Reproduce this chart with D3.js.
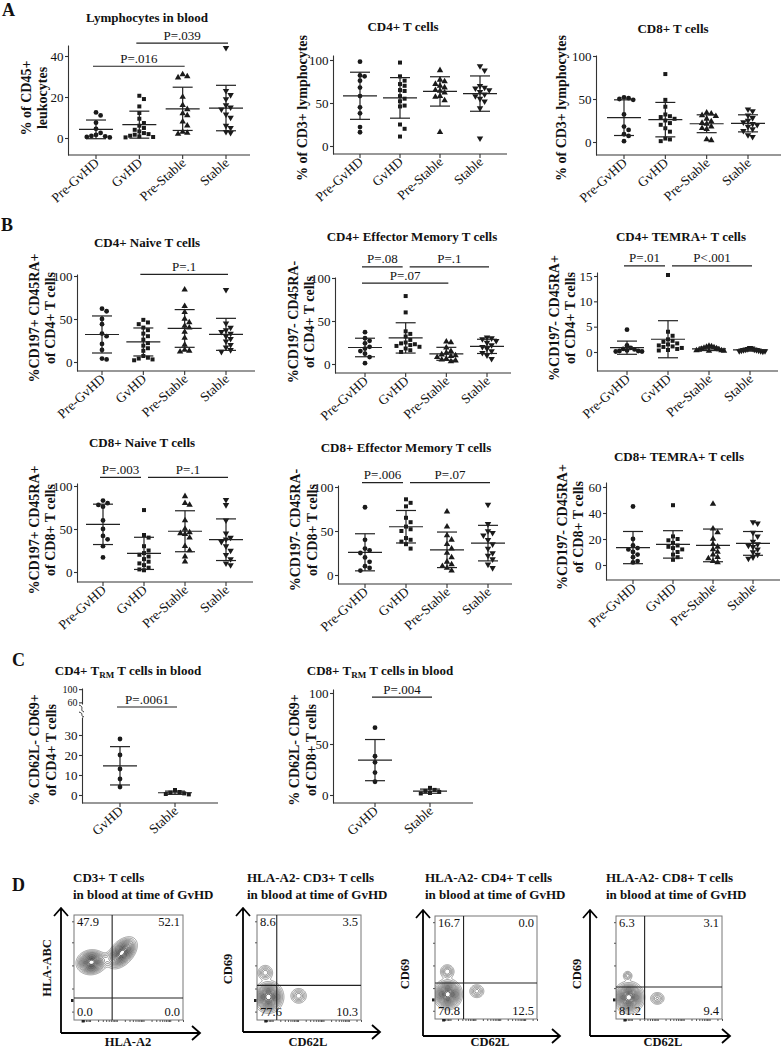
<!DOCTYPE html>
<html><head><meta charset="utf-8">
<script src="https://cdn.jsdelivr.net/npm/d3@7"></script>
<style>
body{margin:0;background:#fff;}
svg text{font-family:"Liberation Serif","Times New Roman",serif;fill:#111;}
</style></head><body>
<svg id="c" width="781" height="1050"></svg>
<script>
// ---------------- DATA ----------------
const groups = ["Pre-GvHD","GvHD","Pre-Stable","Stable"];
const groupsC = ["GvHD","Stable"];

const lymphocytesBlood = [
  [12.5, 11, 7.5, 4.5, 2.5, 1.5, 1, 0.8, 0.5, 0.3],
  [20.6, 19, 15.4, 12.2, 9.4, 7.3, 6, 4.9, 4, 3.2, 2.4, 1.9, 1.6, 1.1, 0.8, 0.5, 0.3],
  [31, 30, 29.5, 20, 16, 14, 12, 11, 8, 6, 3, 2.5, 2],
  [44, 23, 21, 19, 16, 15, 14, 11.5, 10, 6, 5, 3, 2.5]
];
const cd4Tcells = [
  [98, 82, 81, 76, 68, 58, 45, 38, 22, 16],
  [97, 81, 76, 72, 70, 65, 64, 58, 55, 52, 47, 46, 25, 20, 11],
  [88, 77, 75, 72, 70, 68, 65, 64, 62, 58, 57, 53, 16],
  [93, 88, 70, 68, 67, 65, 63, 60, 58, 55, 52, 44, 9]
];
const cd8Tcells = [
  [52, 51, 50, 49, 32, 18, 14, 9, 7, 1],
  [79, 49, 41, 32, 30, 29, 27, 25, 22, 20, 16, 12, 4, 3, 1],
  [34, 33, 31, 30, 27, 24, 22, 21, 18, 16, 15, 3, 2],
  [38, 36, 31, 28, 25, 23, 21, 20, 18, 15, 13, 8, 6]
];
const cd4Naive = [
  [62, 59, 50, 44, 33, 30, 21, 14, 4, 3],
  [49, 46, 44, 40, 37, 33, 30, 26, 22, 19, 16, 13, 7, 5, 4, 3, 2],
  [84, 65, 58, 50, 46, 42, 40, 35, 28, 20, 14, 13, 12],
  [84, 45, 40, 37, 35, 33, 30, 27, 24, 20, 17, 14, 12]
];
const cd4EffMem = [
  [37, 30, 27, 24, 20, 18, 15, 12, 8, 1],
  [79, 60, 38, 35, 32, 28, 25, 24, 23, 22, 21, 20, 18, 16, 14],
  [26, 25, 19, 15, 13, 11, 10, 9, 8, 6, 5, 4, 3],
  [31, 30, 29, 27, 25, 22, 20, 18, 15, 13, 10, 6]
];
const cd4Temra = [
  [4.4, 1.3, 0.8, 0.6, 0.5, 0.3, 0.2, 0.2, 0.1, 0.1],
  [15.2, 4, 3.2, 2.5, 2.2, 2, 1.7, 1.5, 1.3, 1.1, 1, 0.8, 0.6, 0.4, 0.3],
  [1.2, 1.1, 1.0, 0.9, 0.8, 0.7, 0.6, 0.5, 0.4, 0.3, 0.3, 0.2, 0.2],
  [0.8, 0.7, 0.6, 0.5, 0.5, 0.4, 0.4, 0.3, 0.3, 0.2, 0.2, 0.2, 0.1]
];
const cd8Naive = [
  [83, 80, 78, 76, 60, 50, 42, 38, 30, 17],
  [72, 43, 40, 30, 25, 22, 20, 18, 15, 12, 10, 8, 5, 3, 2],
  [88, 80, 78, 60, 50, 46, 45, 44, 40, 30, 25, 18, 12],
  [84, 78, 60, 45, 40, 38, 35, 30, 25, 20, 15, 10, 8]
];
const cd8EffMem = [
  [77, 40, 30, 28, 25, 20, 15, 10, 8, 5],
  [86, 82, 78, 65, 60, 55, 52, 50, 42, 40, 38, 35, 30],
  [72, 55, 45, 40, 35, 30, 25, 20, 15, 12, 10, 8, 5],
  [80, 58, 50, 48, 45, 40, 35, 30, 25, 22, 18, 12, 8]
];
const cd8Temra = [
  [45, 20, 15, 13, 12, 10, 8, 6, 3, 2],
  [46, 22, 20, 19, 17, 15, 14, 13, 12, 10, 8, 6, 4],
  [47, 28, 25, 20, 16, 14, 12, 10, 8, 6, 5, 3, 2],
  [33, 32, 25, 22, 18, 16, 15, 14, 12, 10, 8, 6, 5]
];
const cd4Trm = [[28, 20, 13, 8, 4], [2.5, 1.5, 1.2, 0.8, 0.5, 0.3]];
const cd8Trm = [[66, 38, 32, 22, 13], [7, 5, 4, 3, 2, 1.5]];

// p-value annotations: from group, to group, label, level (data units)
const pA1 = [{from:0,to:2,label:"P=.016",level:35},{from:1,to:3,label:"P=.039",level:46.3}];
const pB1 = [{from:1,to:3,label:"P=.1",level:102}];
const pB2 = [{from:0,to:1,label:"P=.08",level:113},{from:1,to:3,label:"P=.1",level:113},{from:0,to:2,label:"P=.07",level:94}];
const pB3 = [{from:0,to:1,label:"P=.01",level:17},{from:1,to:3,label:"P<.001",level:17}];
const pB4 = [{from:0,to:1,label:"P=.003",level:110},{from:1,to:3,label:"P=.1",level:110}];
const pB5 = [{from:0,to:1,label:"P=.006",level:105},{from:1,to:3,label:"P=.07",level:105}];
const pC1 = [{from:0,to:1,label:"P=.0061",level:44}];
const pC2 = [{from:0,to:1,label:"P=.004",level:96}];

// flow plots: quadrant percentages (TL, TR, BL, BR)
const quadD1 = ["47.9","52.1","0.0","0.0"];
const quadD2 = ["8.6","3.5","77.6","10.3"];
const quadD3 = ["16.7","0.0","70.8","12.5"];
const quadD4 = ["6.3","3.1","81.2","9.4"];
// populations: [x, y, sx, sy, angleDeg, weight] on 0-100 axis units
const popD1 = [[16,55,4.8,4.0,10,1],[44,64,6.0,3.6,50,1],[30,58,6,3,20,0.06]];
const popD2 = [[11,22,5.0,5.3,0,1],[8,45,3.2,3.2,0,0.13],[40,23,3.4,3.2,0,0.13]];
const popD3 = [[12.5,24,4.9,5.1,0,1],[12,46,3.0,3.0,0,0.14],[41,27,3.2,2.9,0,0.12]];
const popD4 = [[12,21,5.1,5.3,0,1],[11,42,2.0,2.1,0,0.09],[39,20,3.0,2.7,0,0.11]];

// ---------------- DRAWING ----------------
const svg = d3.select("#c");
const FONT = "'Liberation Serif','Times New Roman',serif";
const INK = "#1a1a1a";

function panelLetter(t,x,y){
  svg.append("text").attr("x",x).attr("y",y).attr("font-size",18).attr("font-weight","bold").text(t);
}
panelLetter("A",2,16); panelLetter("B",1,231); panelLetter("C",12,666); panelLetter("D",12,891);

const symTypes = [d3.symbolCircle, d3.symbolSquare, d3.symbolTriangle, d3.symbolTriangle];
const symSizes = [18, 16, 18, 18];

function swarm(vals, y, r, step, maxSpread){
  const pts = vals.map(v=>({v, py:y(v)})).sort((a,b)=>a.py-b.py);
  const placed=[];
  pts.forEach(p=>{
    for(let k=0;k<60;k++){
      const off = k===0?0:(k%2?1:-1)*Math.ceil(k/2)*step;
      if(placed.every(q=>Math.hypot(q.dx-off,q.py-p.py)>=2*r)){p.dx=off;break;}
    }
    placed.push(p);
  });
  const mx=d3.max(placed,p=>Math.abs(p.dx))||1;
  const f=Math.min(1,maxSpread/mx);
  placed.forEach(p=>p.dx*=f);
  return placed;
}

function drawTitle(g,c){
  const t=g.append("text").attr("x",c.titleX).attr("y",c.titleY).attr("text-anchor","middle")
    .attr("font-size",13).attr("font-weight","bold");
  let shift=0;
  c.title.forEach(seg=>{
    if(typeof seg==="string"){ t.append("tspan").attr("dy",-shift).text(seg); shift=0; }
    else { t.append("tspan").attr("font-size",9).attr("dy",3).text(seg.sub); shift=3; }
  });
}

function styleAxis(fs){
  return s=>{
    s.attr("font-family",FONT);
    s.select(".domain").attr("stroke","#333").attr("stroke-width",1.1);
    s.selectAll(".tick line").attr("stroke","#333").attr("stroke-width",1.1);
    s.selectAll(".tick text").attr("font-size",fs).attr("fill",INK).attr("font-family",FONT);
  };
}

function drawScatter(c){
  const k=(c.zero-c.ref[1])/c.ref[0];
  const y=d3.scaleLinear().domain([-(c.yBot-c.zero)/k,(c.zero-c.yTop)/k]).range([c.yBot,c.yTop]);
  const x=d3.scalePoint().domain(c.cats).range(c.catRange);
  const g=svg.append("g");
  drawTitle(g,c);
  c.ylab.forEach((line,i)=>{
    g.append("text").attr("transform",`translate(${c.ylabX[i]},${c.ylabY}) rotate(-90)`)
      .attr("text-anchor","middle").attr("dy","0.35em").attr("font-size",14).attr("font-weight","bold").text(line);
  });
  g.append("g").attr("transform",`translate(${c.ax},0)`)
    .call(d3.axisLeft(y).tickValues(c.ticks).tickSize(3).tickSizeOuter(0).tickPadding(1.5)).call(styleAxis(13));
  if(c.broken){
    const b=c.broken;
    const yh=d3.scaleLinear().domain(b.domain).range(b.range);
    g.append("g").attr("transform",`translate(${c.ax},0)`)
      .call(d3.axisLeft(yh).tickValues(b.ticks).tickSize(3).tickSizeOuter(0).tickPadding(1.5)).call(styleAxis(10));
    const by0=b.range[0], by1=c.yTop;
    g.append("path").attr("d",`M${c.ax-3},${by0+1} C${c.ax+3},${by0+3} ${c.ax-3},${by0+6} ${c.ax+2},${by0+8}`)
      .attr("fill","none").attr("stroke","#333").attr("stroke-width",1);
    g.append("path").attr("d",`M${c.ax-3},${by1-5} C${c.ax+3},${by1-3} ${c.ax-3},${by1-2} ${c.ax+2},${by1}`)
      .attr("fill","none").attr("stroke","#333").attr("stroke-width",1);
  }
  g.append("line").attr("x1",c.ax).attr("x2",c.xEnd).attr("y1",c.yBot).attr("y2",c.yBot)
    .attr("stroke","#333").attr("stroke-width",1.1);
  c.cats.forEach(cat=>{
    const cx=x(cat);
    g.append("line").attr("x1",cx).attr("x2",cx).attr("y1",c.yBot).attr("y2",c.yBot+4).attr("stroke","#333").attr("stroke-width",1.1);
    g.append("text").attr("transform",`translate(${cx+4},${c.yBot+9}) rotate(-42)`)
      .attr("text-anchor","end").attr("font-size",13.5).text(cat);
  });
  c.data.forEach((vals,i)=>{
    const cx=x(c.cats[i]);
    const si = c.syms ? c.syms[i] : i;
    const sym=d3.symbol().type(symTypes[si]).size(symSizes[si]);
    swarm(vals,y,2.3,4.6,15).forEach(p=>{
      g.append("path").attr("d",sym()).attr("fill",INK)
        .attr("transform",`translate(${cx+p.dx},${p.py})${si===3?" rotate(180)":""}`);
    });
    const m=d3.mean(vals), sd=d3.deviation(vals);
    const eb=g.append("g").attr("stroke","#222").attr("stroke-width",1.2);
    eb.append("line").attr("x1",cx).attr("x2",cx).attr("y1",y(m-sd)).attr("y2",y(m+sd));
    eb.append("line").attr("x1",cx-17).attr("x2",cx+17).attr("y1",y(m)).attr("y2",y(m));
    eb.append("line").attr("x1",cx-10).attr("x2",cx+10).attr("y1",y(m-sd)).attr("y2",y(m-sd));
    eb.append("line").attr("x1",cx-10).attr("x2",cx+10).attr("y1",y(m+sd)).attr("y2",y(m+sd));
  });
  (c.pvals||[]).forEach(p=>{
    const sharedStart=(c.pvals).some(q=>q!==p&&q.level===p.level&&q.to===p.from);
    const sharedEnd=(c.pvals).some(q=>q!==p&&q.level===p.level&&q.from===p.to);
    const x0=x(c.cats[p.from])+(sharedStart?4:-3);
    const x1=x(c.cats[p.to])+(sharedEnd?-3:2);
    const ly=y(p.level);
    g.append("line").attr("x1",x0).attr("x2",x1).attr("y1",ly).attr("y2",ly).attr("stroke","#222").attr("stroke-width",1.2);
    g.append("text").attr("x",(x0+x1)/2).attr("y",ly-3.5).attr("text-anchor","middle").attr("font-size",13).text(p.label);
  });
}

const charts = [
  {data:lymphocytesBlood,cats:groups,title:["Lymphocytes in blood"],titleX:147,titleY:22,
   ylab:["% of CD45+","leukocytes"],ylabX:[26,42],ylabY:98,ticks:[0,20,40],
   zero:138,ref:[40,56],yTop:45,yBot:155,ax:68,xEnd:250,catRange:[96,226],pvals:pA1},
  {data:cd4Tcells,cats:groups,title:["CD4+ T cells"],titleX:403,titleY:31,
   ylab:["% of CD3+ lymphocytes"],ylabX:[302],ylabY:108,ticks:[0,50,100],
   zero:146,ref:[100,60],yTop:55,yBot:154,ax:333,xEnd:507,catRange:[360,480]},
  {data:cd8Tcells,cats:groups,title:["CD8+ T cells"],titleX:673,titleY:33,
   ylab:["% of CD3+ lymphocytes"],ylabX:[561],ylabY:108,ticks:[0,50,100],
   zero:142,ref:[100,56],yTop:55,yBot:155,ax:596,xEnd:781,catRange:[624,748]},
  {data:cd4Naive,cats:groups,title:["CD4+ Naive T cells"],titleX:147,titleY:247,
   ylab:["%CD197+ CD45RA+","of CD4+ T cells"],ylabX:[34,50],ylabY:318,ticks:[0,50,100],
   zero:362,ref:[100,276],yTop:274,yBot:371,ax:77,xEnd:255,catRange:[102,226],pvals:pB1},
  {data:cd4EffMem,cats:groups,title:["CD4+ Effector Memory T cells"],titleX:412,titleY:241,
   ylab:["%CD197- CD45RA-","of CD4+ T cells"],ylabX:[293,309],ylabY:322,ticks:[0,50,100],
   zero:364,ref:[100,278],yTop:277,yBot:373,ax:335,xEnd:511,catRange:[365,487],pvals:pB2},
  {data:cd4Temra,cats:groups,title:["CD4+ TEMRA+ T cells"],titleX:681,titleY:241,
   ylab:["%CD197- CD45RA+","of CD4+ T cells"],ylabX:[554,570],ylabY:318,ticks:[0,5,10,15],
   zero:352,ref:[15,276],yTop:272,yBot:371,ax:597,xEnd:778,catRange:[627,750],pvals:pB3},
  {data:cd8Naive,cats:groups,title:["CD8+ Naive T cells"],titleX:142,titleY:447,
   ylab:["%CD197+ CD45RA+","of CD8+ T cells"],ylabX:[34,50],ylabY:530,ticks:[0,50,100],
   zero:572,ref:[100,486],yTop:483,yBot:582,ax:77,xEnd:253,catRange:[103,226],pvals:pB4},
  {data:cd8EffMem,cats:groups,title:["CD8+ Effector Memory T cells"],titleX:406,titleY:452,
   ylab:["%CD197- CD45RA-","of CD8+ T cells"],ylabX:[295,312],ylabY:530,ticks:[0,50,100],
   zero:575,ref:[100,487],yTop:485,yBot:584,ax:338,xEnd:512,catRange:[365,488],pvals:pB5},
  {data:cd8Temra,cats:groups,title:["CD8+ TEMRA+ T cells"],titleX:679,titleY:461,
   ylab:["%CD197- CD45RA+","of CD8+ T cells"],ylabX:[562,578],ylabY:527,ticks:[0,20,40,60],
   zero:565,ref:[60,487],yTop:482,yBot:580,ax:606,xEnd:780,catRange:[633,753]},
  {data:cd4Trm,cats:groupsC,syms:[0,1],title:["CD4+ T",{sub:"RM"}," T cells in blood"],titleX:128,titleY:675,
   ylab:["% CD62L- CD69+","of CD4+ T cells"],ylabX:[34,51],ylabY:750,ticks:[0,10,20,30],
   zero:795,ref:[30,735],yTop:717,yBot:803,ax:82,xEnd:218,catRange:[120,175],pvals:pC1,
   broken:{domain:[55,103.5],range:[704,688],ticks:[60,100]}},
  {data:cd8Trm,cats:groupsC,syms:[0,1],title:["CD8+ T",{sub:"RM"}," T cells in blood"],titleX:380,titleY:675,
   ylab:["% CD62L- CD69+","of CD8+ T cells"],ylabX:[294,311],ylabY:750,ticks:[0,50,100],
   zero:795,ref:[100,693],yTop:689,yBot:803,ax:333,xEnd:473,catRange:[375,430],pvals:pC2}
];
charts.forEach(drawScatter);

// ---------------- FLOW CONTOUR PLOTS ----------------
let clipId=0;
function drawFlow(c){
  const [bx0,by0,bx1,by1]=c.box;
  const xs=d3.scaleLinear().domain([0,100]).range([bx0,bx1]);
  const ys=d3.scaleLinear().domain([0,100]).range([by1,by0]);
  const g=svg.append("g");
  c.title.forEach((l,i)=>g.append("text").attr("x",c.titleX).attr("y",882+i*16.5)
    .attr("font-size",13).attr("font-weight","bold").text(l));
  const n=160, vals=new Float64Array(n*n);
  for(let j=0;j<n;j++) for(let i=0;i<n;i++){
    const px=(i+0.5)/n*100, py=(j+0.5)/n*100; let s=0;
    c.pops.forEach(([mx,my,sx,sy,ang,w])=>{
      const a=ang*Math.PI/180, dx=px-mx, dy=py-my;
      const u=dx*Math.cos(a)+dy*Math.sin(a), v=-dx*Math.sin(a)+dy*Math.cos(a);
      s+=w*Math.exp(-(u*u/(2*sx*sx)+v*v/(2*sy*sy)));
    });
    vals[i+j*n]=s;
  }
  const thr=[0.012,0.025,0.045,0.07,0.1,0.14,0.19,0.25,0.32,0.4,0.49,0.58,0.68,0.78,0.88];
  const conts=d3.contours().size([n,n]).thresholds(thr)(vals);
  const proj=d3.geoTransform({point(px,py){this.stream.point(xs(px/n*100),ys(py/n*100));}});
  const path=d3.geoPath(proj);
  const id="clip"+(clipId++);
  g.append("clipPath").attr("id",id).append("rect").attr("x",bx0).attr("y",by0).attr("width",bx1-bx0).attr("height",by1-by0);
  const shade=d3.scaleLinear().domain([0,thr.length-1]).range(["#8a8a8a","#1e1e1e"]);
  g.append("g").attr("clip-path",`url(#${id})`).selectAll("path").data(conts).join("path")
    .attr("d",path).attr("fill","none").attr("stroke",(d,i)=>shade(i)).attr("stroke-width",0.85);
  g.append("rect").attr("x",bx0).attr("y",by0).attr("width",bx1-bx0).attr("height",by1-by0)
    .attr("fill","none").attr("stroke","#777").attr("stroke-width",1);
  g.append("g").attr("transform",`translate(${bx0},0)`)
    .call(d3.axisLeft(ys).tickValues([8,30,52,74,94]).tickSize(2).tickFormat(""))
    .call(s=>{s.select(".domain").remove(); s.selectAll("line").attr("stroke","#555");});
  const lx=d3.scaleLog().domain([0.5,3000]).range([bx0+8,bx1]);
  g.append("g").attr("transform",`translate(0,${by1})`)
    .call(d3.axisBottom(lx).tickValues(lx.ticks(40)).tickSize(2).tickFormat(""))
    .call(s=>{s.select(".domain").remove(); s.selectAll("line").attr("stroke","#555");});
  g.append("rect").attr("x",xs(7)).attr("y",by1).attr("width",3).attr("height",2.5).attr("fill","#222");
  g.append("rect").attr("x",bx0-3).attr("y",ys(20)).attr("width",2.5).attr("height",3).attr("fill","#222");
  g.append("line").attr("x1",xs(c.q[0])).attr("x2",xs(c.q[0])).attr("y1",by0).attr("y2",by1).attr("stroke","#222").attr("stroke-width",1.1);
  g.append("line").attr("x1",bx0).attr("x2",bx1).attr("y1",ys(c.q[1])).attr("y2",ys(c.q[1])).attr("stroke","#222").attr("stroke-width",1.1);
  const qt=[[bx0+3,by0+11,"start"],[bx1-3,by0+11,"end"],[bx0+3,by1-4,"start"],[bx1-3,by1-4,"end"]];
  c.quads.forEach((t,i)=>g.append("text").attr("x",qt[i][0]).attr("y",qt[i][1]).attr("text-anchor",qt[i][2])
    .attr("font-size",12.5).text(t));
  const [ox,oy]=c.origin;
  g.append("path").attr("d",`M${ox},${oy} L${ox},${c.top} M${ox-7},${c.top+8} L${ox},${c.top} L${ox+7},${c.top+8}`)
    .attr("fill","none").attr("stroke","#000").attr("stroke-width",1.8);
  g.append("path").attr("d",`M${ox},${oy} L${c.right},${oy} M${c.right-8},${oy-7} L${c.right},${oy} L${c.right-8},${oy+7}`)
    .attr("fill","none").attr("stroke","#000").attr("stroke-width",1.8);
  g.append("text").attr("transform",`translate(${c.ylabPos[0]},${c.ylabPos[1]}) rotate(-90)`)
    .attr("text-anchor","middle").attr("dy","0.35em").attr("font-size",12.5).attr("font-weight","bold").text(c.ylab);
  g.append("text").attr("x",c.xlabPos[0]).attr("y",c.xlabPos[1]).attr("text-anchor","middle")
    .attr("font-size",12.5).attr("font-weight","bold").text(c.xlab);
}

const flows=[
  {title:["CD3+ T cells","in blood at time of GvHD"],titleX:73,box:[74,915,183,1020],q:[35,21],quads:quadD1,pops:popD1,
   origin:[61,1033],top:908,right:200,ylab:"HLA-ABC",ylabPos:[47,968],xlab:"HLA-A2",xlabPos:[128,1046]},
  {title:["HLA-A2- CD3+ T cells","in blood at time of GvHD"],titleX:247,box:[257,915,361,1020],q:[19,33],quads:quadD2,pops:popD2,
   origin:[243,1032],top:908,right:380,ylab:"CD69",ylabPos:[228,969],xlab:"CD62L",xlabPos:[308,1046]},
  {title:["HLA-A2- CD4+ T cells","in blood at time of GvHD"],titleX:425,box:[435,916,537,1019],q:[28,35],quads:quadD3,pops:popD3,
   origin:[423,1036],top:910,right:560,ylab:"CD69",ylabPos:[405,974],xlab:"CD62L",xlabPos:[490,1046]},
  {title:["HLA-A2- CD8+ T cells","in blood at time of GvHD"],titleX:606,box:[616,916,722,1019],q:[27,31],quads:quadD4,pops:popD4,
   origin:[590,1036],top:910,right:730,ylab:"CD69",ylabPos:[577,974],xlab:"CD62L",xlabPos:[663,1046]}
];
flows.forEach(drawFlow);
</script>
</body></html>
